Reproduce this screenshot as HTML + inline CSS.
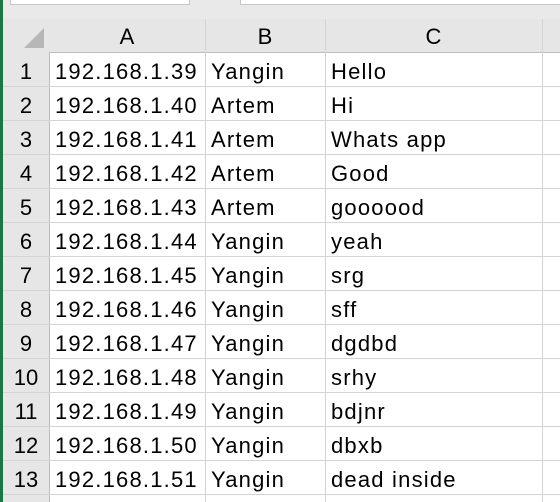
<html><head><style>
body{margin:0;width:560px;height:502px;overflow:hidden;background:#fff;font-family:"Liberation Sans",sans-serif;position:relative}
.g{position:absolute;left:0;top:0;width:3px;height:502px;background:#217346}
.top{position:absolute;left:3px;top:0;width:557px;height:19px;background:#e9e9e9}
.box{position:absolute;top:-2px;height:5px;background:#fff;border:1px solid #c6c6c6}
.hdr{position:absolute;left:3px;top:19px;width:557px;height:33px;background:#e6e6e6;border-bottom:1px solid #bdbdbd}
.rh{position:absolute;left:3px;top:52px;width:46px;height:450px;background:#e6e6e6;border-right:1px solid #bdbdbd}
.v{position:absolute;width:1px;background:#d4d4d4}
.h{position:absolute;left:3px;height:1px;width:557px;background:#d4d4d4}
.t{position:absolute;font-size:22px;letter-spacing:1.2px;color:#000;line-height:34px;white-space:nowrap}
.c{text-align:center;letter-spacing:0}
</style></head><body>
<div class="g"></div>
<div class="top"><div class="box" style="left:7px;width:178px"></div><div class="box" style="left:237px;width:330px"></div></div>
<div class="hdr"></div>
<div class="rh"></div>
<svg style="position:absolute;left:20px;top:26px" width="26" height="24"><polygon points="24,2 24,22 4,22" fill="#b7b7b7"/></svg>
<div class="v" style="left:205px;top:19px;height:483px"></div>
<div class="v" style="left:325px;top:19px;height:483px"></div>
<div class="v" style="left:542px;top:19px;height:483px"></div>
<div id="rows"></div>
<div class="t c" style="left:49px;width:156px;top:20px">A</div>
<div class="t c" style="left:205px;width:120px;top:20px">B</div>
<div class="t c" style="left:325px;width:217px;top:20px">C</div>
<script>
var d=[["192.168.1.39","Yangin","Hello"],["192.168.1.40","Artem","Hi"],["192.168.1.41","Artem","Whats app"],["192.168.1.42","Artem","Good"],["192.168.1.43","Artem","goooood"],["192.168.1.44","Yangin","yeah"],["192.168.1.45","Yangin","srg"],["192.168.1.46","Yangin","sff"],["192.168.1.47","Yangin","dgdbd"],["192.168.1.48","Yangin","srhy"],["192.168.1.49","Yangin","bdjnr"],["192.168.1.50","Yangin","dbxb"],["192.168.1.51","Yangin","dead inside"]];
var h="";
for(var i=0;i<13;i++){var y=52+i*34;
h+='<div class="h" style="top:'+(y+34)+'px"></div>';
h+='<div class="t c" style="left:3px;width:46px;top:'+(y+3)+'px">'+(i+1)+'</div>';
h+='<div class="t" style="left:55px;top:'+(y+3)+'px">'+d[i][0]+'</div>';
h+='<div class="t" style="left:211px;top:'+(y+3)+'px">'+d[i][1]+'</div>';
h+='<div class="t" style="left:331px;top:'+(y+3)+'px">'+d[i][2]+'</div>';}
document.getElementById("rows").innerHTML=h;
</script>
</body></html>
